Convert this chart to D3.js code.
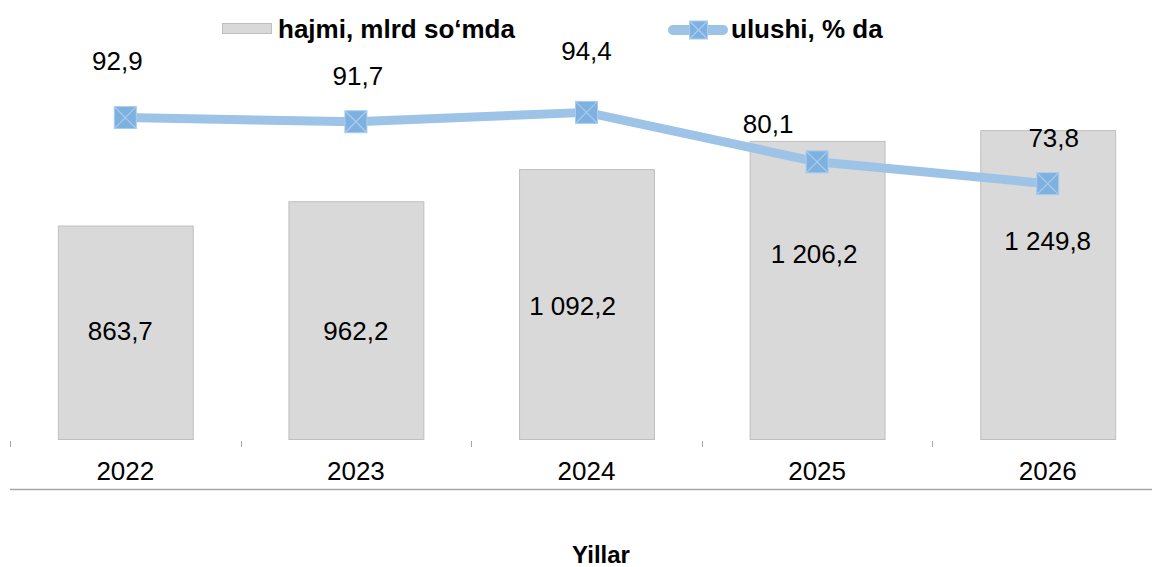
<!DOCTYPE html>
<html>
<head>
<meta charset="utf-8">
<script src="https://cdn.jsdelivr.net/npm/d3@7/dist/d3.min.js"></script>
<style>
  html, body { margin: 0; padding: 0; background: #fff; }
  svg { display: block; font-family: "Liberation Sans", Arial, sans-serif; }
</style>
</head>
<body>
<svg id="chart" width="1152" height="567"></svg>
<script>
// ---- data ----
const years = ["2022", "2023", "2024", "2025", "2026"];
const hajmi = [863.7, 962.2, 1092.2, 1206.2, 1249.8];   // mlrd so'm
const ulushi = [92.9, 91.7, 94.4, 80.1, 73.8];          // %
const seriesNames = ["hajmi, mlrd so‘mda", "ulushi, % da"];
const axisTitle = "Yillar";

// ---- layout (label nudges, as placed in the original) ----
const barLabelNudge = [[-5, -1], [0, 11], [-14, 2], [-3, -36], [0, -44]];
const lineLabelNudge = [[-8, -57], [2, -46], [0, -61], [-49, -38], [6, -46]];

const W = 1152, H = 567;
const plot = { left: 10, right: 1163, top: 93, bottom: 439 };
const fontSize = 26;

const svg = d3.select("#chart");
const loc = d3.formatLocale({ decimal: ",", thousands: " ", grouping: [3], currency: ["", ""] });
const fmt = loc.format(",.1f");

const x = d3.scaleBand().domain(years).range([plot.left, plot.right]).paddingInner(0.415).paddingOuter(0.2075);
const yBar = d3.scaleLinear().domain([0, 1400]).range([plot.bottom, plot.top]);
const yLine = d3.scaleLinear().domain([0, 100]).range([plot.bottom, plot.top]);

// bars
svg.append("g").selectAll("rect").data(hajmi).join("rect")
  .attr("x", (d, i) => x(years[i]) + 0.5)
  .attr("y", d => yBar(d) + 0.5)
  .attr("width", x.bandwidth())
  .attr("height", d => yBar(0) - yBar(d))
  .attr("fill", "#d9d9d9")
  .attr("stroke", "#bfbfbf")
  .attr("stroke-width", 1);

// bar labels
svg.append("g").selectAll("text").data(hajmi).join("text")
  .attr("x", (d, i) => x(years[i]) + x.bandwidth() / 2 + barLabelNudge[i][0])
  .attr("y", (d, i) => (yBar(d) + yBar(0)) / 2 + barLabelNudge[i][1])
  .attr("text-anchor", "middle")
  .attr("dominant-baseline", "central")
  .attr("font-size", fontSize)
  .attr("fill", "#000")
  .text(d => fmt(d));

// x axis: ticks between categories, no domain line
const step = x.step();
const tickXs = d3.range(years.length).map(i => plot.left + i * step);
svg.append("g").selectAll("line").data(tickXs).join("line")
  .attr("x1", d => Math.round(d) + 0.5).attr("x2", d => Math.round(d) + 0.5)
  .attr("y1", plot.bottom + 2).attr("y2", plot.bottom + 8)
  .attr("stroke", "#a6a6a6").attr("stroke-width", 1);

svg.append("g").selectAll("text").data(years).join("text")
  .attr("x", d => x(d) + x.bandwidth() / 2)
  .attr("y", 471)
  .attr("text-anchor", "middle")
  .attr("dominant-baseline", "central")
  .attr("font-size", fontSize)
  .attr("fill", "#000")
  .text(d => d);

// bottom rule
svg.append("line")
  .attr("x1", plot.left).attr("x2", W)
  .attr("y1", 489.5).attr("y2", 489.5)
  .attr("stroke", "#a6a6a6").attr("stroke-width", 1.5);

// axis title
svg.append("text")
  .attr("x", 601).attr("y", 554)
  .attr("text-anchor", "middle")
  .attr("dominant-baseline", "central")
  .attr("font-size", fontSize - 2)
  .attr("font-weight", "bold")
  .text(axisTitle);

// line series
const cx = (i) => x(years[i]) + x.bandwidth() / 2;
const lineGen = d3.line().x((d, i) => cx(i)).y(d => yLine(d));
svg.append("path")
  .datum(ulushi)
  .attr("d", lineGen)
  .attr("fill", "none")
  .attr("stroke", "#9dc3e6")
  .attr("stroke-width", 9)
  .attr("stroke-linejoin", "round");

function marker(g, px, py, s) {
  const h = s / 2;
  g.append("rect").attr("x", px - h).attr("y", py - h).attr("width", s).attr("height", s)
    .attr("fill", "#7eb1df").attr("stroke", "#a9cdee").attr("stroke-width", 1);
  g.append("path")
    .attr("d", `M${px - h},${py - h}L${px + h},${py + h}M${px + h},${py - h}L${px - h},${py + h}`)
    .attr("stroke", "#a9cdee").attr("stroke-width", 1.2);
}
const mg = svg.append("g");
ulushi.forEach((d, i) => marker(mg, cx(i), yLine(d), 22));

// line labels
svg.append("g").selectAll("text").data(ulushi).join("text")
  .attr("x", (d, i) => cx(i) + lineLabelNudge[i][0])
  .attr("y", (d, i) => yLine(d) + lineLabelNudge[i][1])
  .attr("text-anchor", "middle")
  .attr("dominant-baseline", "central")
  .attr("font-size", fontSize)
  .attr("fill", "#000")
  .text(d => fmt(d));

// legend
const lg = svg.append("g");
lg.append("rect").attr("x", 222.5).attr("y", 23.5).attr("width", 49).attr("height", 10)
  .attr("fill", "#d9d9d9").attr("stroke", "#bfbfbf");
lg.append("text").attr("x", 278).attr("y", 29).attr("dominant-baseline", "central")
  .attr("font-size", fontSize).attr("font-weight", "bold").text(seriesNames[0]);
lg.append("line").attr("x1", 673).attr("x2", 723).attr("y1", 30).attr("y2", 30)
  .attr("stroke", "#9dc3e6").attr("stroke-width", 10).attr("stroke-linecap", "round");
marker(lg, 698.5, 30, 18);
lg.append("text").attr("x", 731).attr("y", 29).attr("dominant-baseline", "central")
  .attr("font-size", fontSize).attr("font-weight", "bold").text(seriesNames[1]);
</script>
</body>
</html>
